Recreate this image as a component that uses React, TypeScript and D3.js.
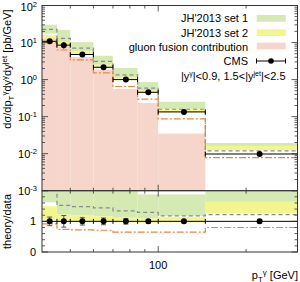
import React from "react";
import * as d3 from "d3";

// ---- data ----
const binEdges = [40, 45, 50, 60, 70, 85, 100, 145, 300];
const cmsValues = [10.8, 8.5, 4.75, 2.15, 1.0, 0.454, 0.134, 0.0098];
const cmsRelErr = [0.14, 0.19, 0.12, 0.11, 0.09, 0.06, 0.05, 0.06];
// theory / data ratios
const set1Lo = [1.62, 1.22, 1.2, 1.17, 1.12, 1.1, 1.18, 1.27];
const set1Hi = [2.8, 2.6, 2.15, 2.05, 2.05, 1.88, 1.88, 1.98];
const set1Central = [2.1, 1.52, 1.48, 1.44, 1.34, 1.29, 1.18, 1.22];
const set2Lo = [1.07, 0.98, 0.98, 0.98, 0.97, 0.96, 0.97, 1.27];
const set2Hi = [1.49, 1.22, 1.2, 1.17, 1.12, 1.1, 1.14, 1.65];
const set2Central = [0.92, 0.74, 0.72, 0.71, 0.65, 0.65, 0.65, 0.8];
// gluon fusion contribution [pb/GeV]
const gluonFusion = [12.8, 7.9, 4.1, 1.86, 0.56, 0.234, 0.0347, 0.0005];

const mainYTicks = [1e-3, 1e-2, 1e-1, 1e0, 1e1, 1e2];
const mainYTickExp = ["-3", "-2", "-1", "0", "1", "2"];
const ratioYTickLabels = [0, 1];
const xMinorTicks = [50, 60, 70, 80, 90, 200, 300];
const xMajorTicks = [100];

const C_GREEN = "#d5e9b3";
const C_YELLOW = "#f3f68e";
const C_PINK = "#f6d5ca";
const C_GRAY = "#8a8a8a";
const C_ORANGE = "#e08b3d";
const C_AXIS = "#333";
const FONT = "'Liberation Sans', Arial, Helvetica, sans-serif";

export default function App() {
  const L = 42, R = 297.5, T = 5.5, M = 190.7, B = 252;
  const x = d3.scaleLog().domain([40, 300]).range([L, R]);
  const yM = d3.scaleLog().domain([1e-3, 1e2]).range([M, T]);
  const yR = d3.scaleLinear().domain([0, 2]).range([B, M]);

  const bins = cmsValues.map((v, i) => ({
    x0: binEdges[i],
    x1: binEdges[i + 1],
    xc: (binEdges[i] + binEdges[i + 1]) / 2,
    v,
    i,
  }));

  const stepPath = (vals: number[], yf: (v: number) => number) => {
    let p = "";
    bins.forEach((b, i) => {
      const yy = yf(vals[i]);
      p += (i === 0 ? "M" : "L") + x(b.x0) + "," + yy + "L" + x(b.x1) + "," + yy;
    });
    return p;
  };

  const mainY = (v: number) => yM(Math.max(v, 1e-4));
  const logMinor: number[] = [];
  for (let e = -3; e < 2; e++) for (let k = 2; k <= 9; k++) logMinor.push(k * Math.pow(10, e));
  const ratioMinor = d3.range(0, 2.001, 0.2);

  return (
    <svg width={300} height={282} style={{ position: "absolute", left: 0, top: 0 }} fontFamily={FONT}>
      <defs>
        <clipPath id="clipMain">
          <rect x={L} y={T} width={R - L} height={M - T} />
        </clipPath>
        <clipPath id="clipRatio">
          <rect x={L} y={M} width={R - L} height={B - M} />
        </clipPath>
      </defs>
      <rect x={0} y={0} width={300} height={282} fill="#fff" />

      {/* main panel */}
      <g clipPath="url(#clipMain)">
        {bins.map((b) => (
          <rect key={"g" + b.i} x={x(b.x0)} width={x(b.x1) - x(b.x0)}
            y={mainY(set1Hi[b.i] * b.v)} height={mainY(set1Lo[b.i] * b.v) - mainY(set1Hi[b.i] * b.v)} fill={C_GREEN} />
        ))}
        {bins.map((b) => (
          <rect key={"y" + b.i} x={x(b.x0)} width={x(b.x1) - x(b.x0)}
            y={mainY(set2Hi[b.i] * b.v)} height={mainY(set2Lo[b.i] * b.v) - mainY(set2Hi[b.i] * b.v)} fill={C_YELLOW} />
        ))}
        {bins.map((b) => (
          <rect key={"p" + b.i} x={x(b.x0)} width={x(b.x1) - x(b.x0)}
            y={mainY(gluonFusion[b.i])} height={M - mainY(gluonFusion[b.i]) + 1} fill={C_PINK} />
        ))}
        <path d={stepPath(set1Central.map((r, i) => r * cmsValues[i]), mainY)} fill="none" stroke={C_GRAY} strokeWidth={1.2} strokeDasharray="4,3" />
        <path d={stepPath(set2Central.map((r, i) => r * cmsValues[i]), mainY)} fill="none" stroke={C_ORANGE} strokeWidth={1.2} strokeDasharray="7,2,2,2" />
        {bins.map((b) => {
          const yy = mainY(b.v);
          return (
            <g key={"d" + b.i} stroke="#000" strokeWidth={1}>
              <line x1={x(b.x0)} x2={x(b.x1)} y1={yy} y2={yy} />
              <line x1={x(b.x0)} x2={x(b.x0)} y1={yy - 2.5} y2={yy + 2.5} />
              <line x1={x(b.x1)} x2={x(b.x1)} y1={yy - 2.5} y2={yy + 2.5} />
              <line x1={x(b.xc)} x2={x(b.xc)} y1={mainY(b.v * (1 + cmsRelErr[b.i]))} y2={mainY(b.v * (1 - cmsRelErr[b.i]))} />
              <circle cx={x(b.xc)} cy={yy} r={3} fill="#000" stroke="none" />
            </g>
          );
        })}
      </g>

      {/* ratio panel */}
      <g clipPath="url(#clipRatio)">
        {bins.map((b) => (
          <rect key={"rg" + b.i} x={x(b.x0)} width={x(b.x1) - x(b.x0)}
            y={yR(set1Hi[b.i])} height={yR(set1Lo[b.i]) - yR(set1Hi[b.i])} fill={C_GREEN} />
        ))}
        {bins.map((b) => (
          <rect key={"ry" + b.i} x={x(b.x0)} width={x(b.x1) - x(b.x0)}
            y={yR(set2Hi[b.i])} height={yR(set2Lo[b.i]) - yR(set2Hi[b.i])} fill={C_YELLOW} />
        ))}
        <path d={stepPath(set1Central, yR)} fill="none" stroke={C_GRAY} strokeWidth={1.2} strokeDasharray="4,3" />
        <path d={stepPath(set2Central, yR)} fill="none" stroke={C_ORANGE} strokeWidth={1.2} strokeDasharray="7,2,2,2" />
        {bins.map((b) => {
          const yy = yR(1);
          const cx = x(b.xc);
          const e = cmsRelErr[b.i];
          return (
            <g key={"rd" + b.i} strokeWidth={1}>
              <line x1={x(b.x0)} x2={x(b.x1)} y1={yy} y2={yy} stroke="#000" />
              <line x1={x(b.x1)} x2={x(b.x1)} y1={yy - 2.5} y2={yy + 2.5} stroke="#000" />
              <line x1={cx} x2={cx} y1={yR(1 + e)} y2={yR(1 - e)} stroke="#555" />
              <line x1={cx - 2.5} x2={cx + 2.5} y1={yR(1 + e)} y2={yR(1 + e)} stroke="#555" />
              <line x1={cx - 2.5} x2={cx + 2.5} y1={yR(1 - e)} y2={yR(1 - e)} stroke="#555" />
              <circle cx={cx} cy={yy} r={3} fill="#000" />
            </g>
          );
        })}
      </g>

      {/* frames */}
      <rect x={L} y={T} width={R - L} height={M - T} fill="none" stroke={C_AXIS} strokeWidth={1} />
      <rect x={L} y={M} width={R - L} height={B - M} fill="none" stroke={C_AXIS} strokeWidth={1} />

      {/* ticks */}
      <g stroke={C_AXIS} strokeWidth={0.8}>
        {mainYTicks.map((t) => (
          <g key={"my" + t}>
            <line x1={L} x2={L + 6} y1={yM(t)} y2={yM(t)} />
            <line x1={R} x2={R - 6} y1={yM(t)} y2={yM(t)} />
          </g>
        ))}
        {logMinor.map((t) => (
          <g key={"mym" + t}>
            <line x1={L} x2={L + 3} y1={yM(t)} y2={yM(t)} />
            <line x1={R} x2={R - 3} y1={yM(t)} y2={yM(t)} />
          </g>
        ))}
        {ratioMinor.map((t) => {
          const major = Math.abs(t - Math.round(t)) < 1e-6;
          const len = major ? 6 : 3;
          return (
            <g key={"ry" + t}>
              <line x1={L} x2={L + len} y1={yR(t)} y2={yR(t)} />
              <line x1={R} x2={R - len} y1={yR(t)} y2={yR(t)} />
            </g>
          );
        })}
        {xMinorTicks.concat(xMajorTicks).map((t) => {
          const len = xMajorTicks.includes(t) ? 6 : 3;
          const xx = x(t);
          return (
            <g key={"xt" + t}>
              <line x1={xx} x2={xx} y1={T} y2={T + len} />
              <line x1={xx} x2={xx} y1={M} y2={M - len} />
              <line x1={xx} x2={xx} y1={M} y2={M + len} />
              <line x1={xx} x2={xx} y1={B} y2={B - len} />
            </g>
          );
        })}
      </g>

      {/* tick labels */}
      <g fontSize={11} fill="#000">
        {mainYTicks.map((t, i) => (
          <text key={"myl" + t} x={37} y={Math.max(yM(t) + 4, 11)} textAnchor="end">
            10<tspan fontSize={7.5} dy={-4}>{mainYTickExp[i]}</tspan>
          </text>
        ))}
        {ratioYTickLabels.map((t) => (
          <text key={"ryl" + t} x={36} y={yR(t) + 4} textAnchor="end">{t}</text>
        ))}
        {xMajorTicks.map((t) => (
          <text key={"xl" + t} x={x(t)} y={269} textAnchor="middle">{t}</text>
        ))}
      </g>

      {/* axis titles */}
      <text transform="translate(11,69) rotate(-90)" textAnchor="middle" fontSize={11}>
        dσ/dp<tspan fontSize={8} dy={2.5}>T</tspan><tspan fontSize={8} dy={-6.5}>γ</tspan>
        <tspan fontSize={11} dy={4}>dy</tspan><tspan fontSize={8} dy={-4}>γ</tspan>
        <tspan fontSize={11} dy={4}>dy</tspan><tspan fontSize={8} dy={-4}>jet</tspan>
        <tspan fontSize={11} dy={4}> [pb/GeV]</tspan>
      </text>
      <text transform="translate(10.5,221.5) rotate(-90)" textAnchor="middle" fontSize={11}>theory/data</text>
      <text x={298} y={279} textAnchor="end" fontSize={11}>
        p<tspan fontSize={8} dy={2.5}>T</tspan><tspan fontSize={8} dy={-6.5}>γ</tspan>
        <tspan fontSize={11} dy={4}>  [GeV]</tspan>
      </text>

      {/* legend */}
      <g fontSize={11}>
        <text x={248} y={22} textAnchor="end">JH'2013 set 1</text>
        <rect x={256.7} y={15} width={29} height={6.7} fill={C_GREEN} />
        <text x={248} y={36.5} textAnchor="end">JH'2013 set 2</text>
        <rect x={256.7} y={29.3} width={29} height={6.7} fill={C_YELLOW} />
        <text x={248} y={50.5} textAnchor="end">gluon fusion contribution</text>
        <rect x={256.7} y={42.7} width={29} height={6.7} fill={C_PINK} />
        <text x={248} y={65} textAnchor="end">CMS</text>
        <g stroke="#000" strokeWidth={1}>
          <line x1={256.5} x2={285.5} y1={61} y2={61} />
          <line x1={256.5} x2={256.5} y1={58.5} y2={63.5} />
          <line x1={285.5} x2={285.5} y1={58.5} y2={63.5} />
        </g>
        <circle cx={271} cy={61} r={2.8} fill="#000" />
        <text x={285.5} y={79.5} textAnchor="end">
          |y<tspan fontSize={7} dy={-4}>γ</tspan><tspan fontSize={11} dy={4}>|&lt;0.9, 1.5&lt;|y</tspan>
          <tspan fontSize={7} dy={-4}>jet</tspan><tspan fontSize={11} dy={4}>|&lt;2.5</tspan>
        </text>
      </g>
    </svg>
  );
}
